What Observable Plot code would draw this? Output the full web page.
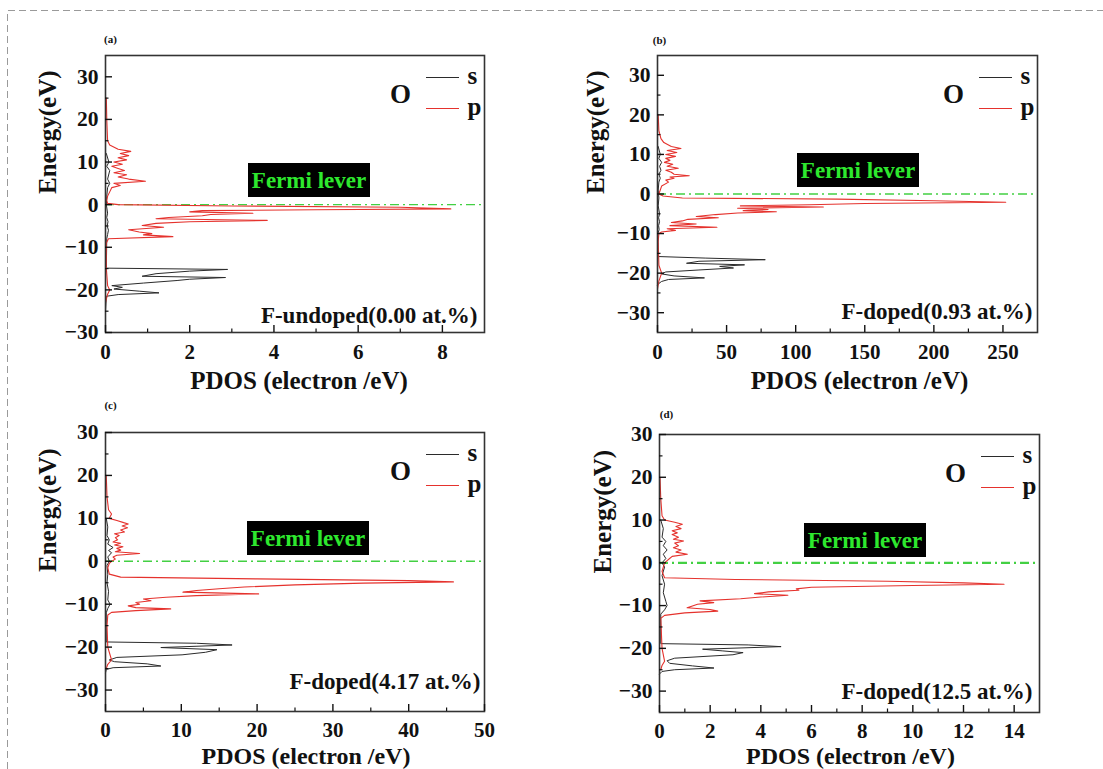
<!DOCTYPE html>
<html><head><meta charset="utf-8">
<script src="https://cdn.jsdelivr.net/npm/d3@7"></script>
<script src="https://cdn.jsdelivr.net/npm/@observablehq/plot@0.6"></script>
<style>
html,body{margin:0;padding:0;background:#fff;}
#root{position:relative;width:1103px;height:769px;overflow:hidden;font-family:"Liberation Serif","Times New Roman",serif;font-weight:bold;color:#111;}
.panel{position:absolute;}
.panel svg{position:absolute;left:0;top:0;}
.fermi{position:absolute;width:122px;height:34px;background:#000;color:#2ee82e;font-size:23px;display:flex;align-items:center;justify-content:center;line-height:1;}
.leg{position:absolute;height:0;width:33px;border-top:1.5px solid #333;}
#border{position:absolute;left:0;top:0;}
</style>
</head><body><div id="root"></div>
<script>
// ---------- data ----------
const seriesNames = ["s", "p"];
const seriesColors = ["#2b2b2b", "#e5322d"];
const panelTags = ["(a)", "(b)", "(c)", "(d)"];
const panelNotes = ["F-undoped(0.00 at.%)", "F-doped(0.93 at.%)", "F-doped(4.17 at.%)", "F-doped(12.5 at.%)"];
const elementName = "O";
const fermiText = "Fermi lever";
const xTitle = "PDOS (electron /eV)";
const yTitle = "Energy(eV)";

// (a) F-undoped
const aSE = [12, 10, 9, 8, 6, 5, 4, 2, 0, -2, -3, -4, -5, -6, -7, -8, -14.9, -15.2, -15.6, -16.2, -16.8, -17.1, -17.5, -17.8, -18.4, -19.0, -19.4, -19.8, -20.3, -20.7, -21.1, -21.5, -25];
const aSV = [0.02, 0.08, 0.03, 0.1, 0.05, 0.1, 0.05, 0.03, 0.02, 0.05, 0.03, 0.06, 0.04, 0.07, 0.05, 0.03, 0.02, 2.9, 2.0, 1.2, 0.87, 2.85, 2.0, 1.7, 0.9, 0.15, 0.4, 0.2, 0.8, 1.27, 0.3, 0.02, 0];
const aPE = [25, 20, 15, 14, 13, 12.5, 12, 11.5, 11, 10.5, 10, 9.5, 9, 8.5, 8, 7.5, 7, 6.5, 6, 5.5, 5, 4.5, 4, 3, 2, 1, 0.3, 0, -0.3, -0.6, -1.0, -1.2, -1.4, -1.7, -2.0, -2.3, -2.6, -3.0, -3.3, -3.7, -4.0, -4.4, -4.9, -5.3, -5.9, -6.4, -6.8, -7.1, -7.5, -8.0, -9, -15, -19, -20, -21, -23];
const aPV = [0.02, 0.03, 0.05, 0.1, 0.3, 0.6, 0.35, 0.55, 0.3, 0.5, 0.2, 0.4, 0.15, 0.3, 0.45, 0.2, 0.5, 0.3, 0.55, 0.95, 0.2, 0.35, 0.15, 0.1, 0.05, 0.03, 0.05, 0.3, 3, 7, 8.2, 5, 2.3, 2.0, 3.5, 2.5, 2.3, 1.5, 1.2, 3.84, 2.0, 1.2, 0.87, 1.38, 0.55, 0.8, 1.1, 0.9, 1.6, 0.07, 0.02, 0.02, 0.05, 0.1, 0.05, 0];

// (b) F-doped 0.93 at.%
const bSE = [12, 10, 9, 8, 7, 6, 5, 4, 3, 1, -1, -3, -5, -6, -7, -8, -9, -10, -15.8, -16.2, -16.6, -17.0, -17.5, -17.9, -18.3, -18.7, -19.2, -19.7, -20.2, -20.7, -21.2, -21.6, -22.1, -22.6, -23];
const bSV = [0.5, 2, 1, 3, 1.5, 2.5, 1, 2, 1, 0.5, 1, 0.5, 1.5, 0.8, 1.5, 0.8, 1.2, 0.3, 0.3, 35, 78, 30, 21, 63, 45, 55, 30, 6, 3, 12, 34, 8, 3, 1, 0];
const bPE = [20, 16, 14, 13, 12, 11.5, 11, 10.5, 10, 9.5, 9, 8.5, 8, 7.5, 7, 6.5, 6, 5.5, 5, 4.6, 4.3, 4, 3.5, 3, 2, 1, 0, -0.5, -1.0, -1.3, -1.7, -2.1, -2.4, -2.7, -3.0, -3.3, -3.6, -3.9, -4.2, -4.5, -4.8, -5.2, -5.7, -6.0, -6.4, -6.8, -7.2, -7.6, -8.0, -8.4, -8.8, -9.2, -9.6, -10, -12, -18, -20, -21, -22, -24];
const bPV = [0.5, 1, 2.5, 4.6, 10, 17, 7, 14, 6, 13, 6, 9, 5, 11, 7, 15, 6, 10, 12, 23, 9, 12, 6, 8, 3, 2, 1, 4, 18, 130, 200, 252, 150, 110, 60, 120, 58, 80, 62, 86, 58, 42, 28, 44, 22, 18, 10, 28, 9, 43, 7, 13, 3, 1, 0.5, 1, 3, 2, 1, 0];

// (c) F-doped 4.17 at.%
const cSE = [10, 8, 6, 5, 4, 3.2, 2.5, 2, 1, 0, -1, -3, -5, -7, -9, -10, -11, -12, -18.8, -19.1, -19.5, -20.1, -20.6, -21.2, -21.8, -22.4, -23.0, -23.4, -23.9, -24.4, -24.8, -25.2, -26];
const cSV = [0.1, 0.3, 0.2, 0.5, 0.3, 1.0, 0.4, 0.8, 0.3, 0.5, 0.2, 0.3, 0.2, 0.4, 0.3, 0.6, 0.3, 0.1, 0.1, 12, 16.7, 7.3, 14.7, 13.2, 10.1, 1.5, 0.5, 1.2, 5.5, 7.3, 1.0, 0.1, 0];
const cPE = [20, 15, 12, 11, 10, 9.5, 9, 8.7, 8.2, 7.8, 7.3, 6.8, 6.4, 6.0, 5.5, 5.0, 4.5, 4.2, 3.8, 3.4, 3.0, 2.6, 2.2, 1.8, 1.4, 1.0, 0.5, 0, -0.5, -1.5, -3.0, -3.7, -4.1, -4.5, -4.8, -5.1, -5.5, -6.0, -6.4, -6.8, -7.2, -7.6, -8.0, -8.4, -8.8, -9.2, -9.6, -10.0, -10.4, -10.8, -11.1, -11.5, -11.9, -12.5, -15, -20, -23, -24, -25];
const cPV = [0.1, 0.2, 0.4, 0.8, 0.5, 1.5, 2.4, 3.0, 2.2, 2.9, 2.0, 2.5, 1.2, 1.8, 1.3, 1.6, 1.0, 2.0, 1.2, 2.3, 1.5, 2.0, 1.3, 4.5, 1.5, 1.0, 1.3, 0.8, 0.5, 0.3, 0.5, 2, 20, 40, 45.9, 34, 25, 18.3, 15, 12, 10.2, 20.2, 12, 8, 5, 6, 4, 4.5, 3.0, 4, 8.6, 4, 0.8, 0.3, 0.2, 0.3, 0.8, 0.3, 0.1];

// (d) F-doped 12.5 at.%
const dSE = [10, 8, 6, 5, 4, 3, 2, 1, 0, -1, -3, -5, -7, -9, -10, -11, -12, -18.9, -19.2, -19.6, -20.2, -20.6, -21.0, -21.5, -22.3, -22.9, -23.5, -24.1, -24.6, -25.0, -25.4, -26];
const dSV = [0.05, 0.15, 0.1, 0.25, 0.15, 0.3, 0.15, 0.25, 0.1, 0.2, 0.1, 0.2, 0.15, 0.25, 0.3, 0.2, 0.05, 0.05, 3.5, 4.8, 1.7, 2.5, 3.3, 2.9, 0.6, 0.3, 0.4, 1.3, 2.15, 0.6, 0.1, 0];
const dPE = [20, 15, 11, 10, 9.5, 9.0, 8.5, 8.0, 7.5, 7.0, 6.6, 6.0, 5.5, 5.1, 4.6, 4.0, 3.5, 3.0, 2.5, 2.0, 1.5, 1.0, 0.5, 0, -1, -2, -3.5, -3.9, -4.3, -4.7, -5.0, -5.3, -5.7, -6.1, -6.4, -6.8, -7.2, -7.6, -8.0, -8.4, -8.9, -9.3, -9.7, -10.1, -10.5, -10.9, -11.3, -11.7, -12.3, -13, -20, -23, -24, -25];
const dPV = [0.02, 0.05, 0.1, 0.2, 0.6, 0.9, 0.65, 0.85, 0.5, 0.7, 0.5, 0.75, 0.55, 0.95, 0.6, 0.75, 0.55, 0.85, 0.65, 1.1, 0.5, 0.4, 0.3, 0.2, 0.15, 0.1, 0.2, 3, 9, 12, 13.6, 10, 6, 5.4, 5.5, 4.3, 3.75, 5.07, 4.0, 3.2, 1.6, 2.14, 1.5, 1.3, 1.09, 2.0, 2.3, 1.0, 0.2, 0.05, 0.1, 0.2, 0.1, 0.05];

// tick values
const yTicksMajor = [-30, -20, -10, 0, 10, 20, 30];
const yTicksMinor = [-25, -15, -5, 5, 15, 25];
const aXTicks = [0, 2, 4, 6, 8], aXMinor = [1, 3, 5, 7];
const bXTicks = [0, 50, 100, 150, 200, 250], bXMinor = [25, 75, 125, 175, 225];
const cXTicks = [0, 10, 20, 30, 40, 50], cXMinor = [5, 15, 25, 35, 45];
const dXTicks = [0, 2, 4, 6, 8, 10, 12, 14], dXMinor = [1, 3, 5, 7, 9, 11, 13];

// ---------- layout ----------
const panels = [
  {left: 0, top: 0, w: 500, h: 392, ml: 105, mr: 16, mt: 55, mb: 60, xDomain: [0, 9], yDomain: [-30, 35],
   xt: aXTicks, xm: aXMinor, sE: aSE, sV: aSV, pE: aPE, pV: aPV, yl: -58, xl: 4, xd: 48, xf: 25, tp: 12, nx: -7, ny: -17, fx: 143, fy: 108, fw: 1.1, tx: 5, ty: -16},
  {left: 550, top: 0, w: 500, h: 392, ml: 107, mr: 13, mt: 55, mb: 60, xDomain: [0, 275], yDomain: [-35, 35],
   xt: bXTicks, xm: bXMinor, sE: bSE, sV: bSV, pE: bPE, pV: bPV, yl: -62, xl: 12, xd: 48, xf: 25, tp: 12, nx: -5, ny: -21, fx: 140, fy: 98, fw: 1.3, tx: 2, ty: -15},
  {left: 0, top: 380, w: 500, h: 389, ml: 105, mr: 16, mt: 52, mb: 58, xDomain: [0, 50], yDomain: [-35, 30],
   xt: cXTicks, xm: cXMinor, sE: cSE, sV: cSV, pE: cPE, pV: cPV, yl: -58, xl: 11, xd: 44.5, xf: 24, tp: 11, nx: -4, ny: -30, fx: 142, fy: 89, fw: 1.3, tx: 5, ty: -27},
  {left: 550, top: 380, w: 500, h: 389, ml: 109, mr: 11, mt: 54, mb: 57, xDomain: [0, 15], yDomain: [-35, 30],
   xt: dXTicks, xm: dXMinor, sE: dSE, sV: dSV, pE: dPE, pV: dPV, yl: -57, xl: 1, xd: 43.5, xf: 24, tp: 11, nx: -7, ny: -21, fx: 145, fy: 89, fw: 2.2, tx: 7, ty: -20}
];

const root = document.getElementById("root");
const FONT = '"Liberation Serif", "Times New Roman", serif';
const blank = () => "";

panels.forEach((c, k) => {
  const host = document.createElement("div");
  host.className = "panel";
  Object.assign(host.style, {left: c.left + "px", top: c.top + "px", width: c.w + "px", height: c.h + "px"});
  const sData = c.sE.map((e, i) => ({e, v: c.sV[i]}));
  const pData = c.pE.map((e, i) => ({e, v: c.pV[i]}));
  const svg = Plot.plot({
    width: c.w, height: c.h,
    marginLeft: c.ml, marginRight: c.mr, marginTop: c.mt, marginBottom: c.mb,
    style: {fontFamily: FONT, fontWeight: "bold", background: "transparent", color: "#111", overflow: "visible"},
    x: {domain: c.xDomain, label: null},
    y: {domain: c.yDomain, label: null},
    marks: [
      Plot.ruleY([0], {stroke: "#43d043", strokeWidth: c.fw, strokeDasharray: "9,4,2,4"}),
      Plot.line(sData, {x: "v", y: "e", stroke: seriesColors[0], strokeWidth: 1}),
      Plot.line(pData, {x: "v", y: "e", stroke: seriesColors[1], strokeWidth: 1.1}),
      Plot.frame({stroke: "#333", strokeWidth: 1.6}),
      Plot.axisY(yTicksMajor, {tickSize: 7, dx: 7, tickFormat: blank, strokeWidth: 1.4, label: null}),
      Plot.axisY(yTicksMinor, {tickSize: 3.5, dx: 3.5, tickFormat: blank, strokeWidth: 1.2, label: null}),
      Plot.axisX(c.xt, {tickSize: 7, dy: -7, tickFormat: blank, strokeWidth: 1.4, label: null}),
      Plot.axisX(c.xm, {tickSize: 3.5, dy: -3.5, tickFormat: blank, strokeWidth: 1.2, label: null}),
      Plot.axisY(yTicksMajor, {tickSize: 0, tickPadding: 7, fontSize: 21.5, label: null}),
      Plot.axisX(c.xt, {tickSize: 0, tickPadding: c.tp, fontSize: 21, label: null}),
      Plot.text([xTitle], {frameAnchor: "bottom", dx: c.xl, dy: c.xd, fontSize: c.xf, lineAnchor: "middle"}),
      Plot.text([yTitle], {frameAnchor: "left", dx: c.yl, rotate: -90, fontSize: 25, lineAnchor: "middle"}),
      Plot.text([panelNotes[k]], {frameAnchor: "bottom-right", dx: c.nx, dy: c.ny, textAnchor: "end", lineAnchor: "middle", fontSize: 23}),
      Plot.text([panelTags[k]], {frameAnchor: "top-left", dx: c.tx, dy: c.ty, textAnchor: "middle", lineAnchor: "middle", fontSize: 11}),
      Plot.text([elementName], {frameAnchor: "top-right", dx: -84, dy: 39, textAnchor: "middle", lineAnchor: "middle", fontSize: 27}),
      Plot.text([seriesNames[0]], {frameAnchor: "top-right", dx: -17, dy: 20, textAnchor: "start", lineAnchor: "middle", fontSize: 25}),
      Plot.text([seriesNames[1]], {frameAnchor: "top-right", dx: -17, dy: 51, textAnchor: "start", lineAnchor: "middle", fontSize: 25})
    ]
  });
  host.appendChild(svg);
  const fl = c.ml, ft = c.mt, fr = c.w - c.mr;
  const box = document.createElement("div");
  box.className = "fermi";
  box.textContent = fermiText;
  Object.assign(box.style, {left: (fl + c.fx) + "px", top: (ft + c.fy) + "px"});
  host.appendChild(box);
  [22, 53].forEach((dy, i) => {
    const ln = document.createElement("div");
    ln.className = "leg";
    Object.assign(ln.style, {left: (fr - 58) + "px", top: (ft + dy) + "px", borderTopColor: seriesColors[i]});
    host.appendChild(ln);
  });
  root.appendChild(host);
});

// dashed outer border (decoration)
const ns = "http://www.w3.org/2000/svg";
const b = document.createElementNS(ns, "svg");
b.setAttribute("id", "border"); b.setAttribute("width", 1103); b.setAttribute("height", 769);
b.innerHTML = '<path d="M7.5,769V10.5H1103" fill="none" stroke="#9a9a9a" stroke-width="1" stroke-dasharray="7,4"/>';
root.appendChild(b);
</script>
</body></html>
